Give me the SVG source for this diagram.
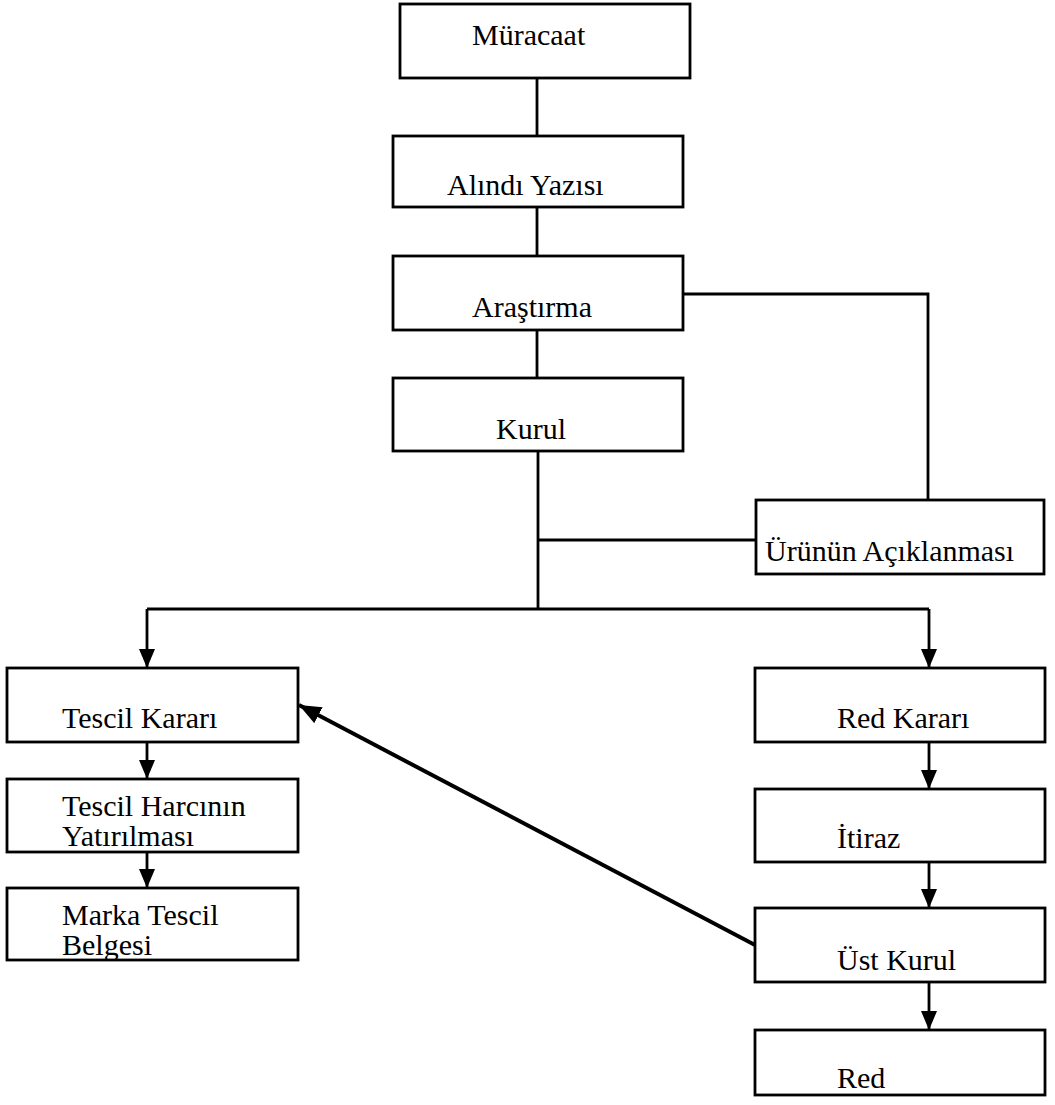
<svg xmlns="http://www.w3.org/2000/svg" width="1055" height="1105" viewBox="0 0 1055 1105">
<style>
.box{fill:#fff;stroke:#000;stroke-width:2.8}
.lbl{font-family:"Liberation Serif","Times New Roman",serif;font-size:30px;fill:#000}
.ln{fill:none;stroke:#000;stroke-width:2.8}
.ar{fill:none;stroke:#000;stroke-width:2.8;marker-end:url(#ah)}
.dg{fill:none;stroke:#000;stroke-width:4;marker-end:url(#ah2)}
</style>
<defs>
<marker id="ah" markerUnits="userSpaceOnUse" markerWidth="19" markerHeight="16" refX="19" refY="8" orient="auto" viewBox="0 0 19 16">
<path d="M0,0 L19,8 L0,16 Z" fill="#000"/>
</marker>
<marker id="ah2" markerUnits="userSpaceOnUse" markerWidth="22" markerHeight="18" refX="22" refY="9" orient="auto" viewBox="0 0 22 18">
<path d="M0,0 L22,9 L0,18 Z" fill="#000"/>
</marker>
</defs>
<rect width="1055" height="1105" fill="#fff"/>
<g id="connectors">
<path class="ln" d="M537,78 V136"/>
<path class="ln" d="M537,207 V256"/>
<path class="ln" d="M537,330 V378"/>
<path class="ln" d="M683,294 H928 V500"/>
<path class="ln" d="M538,451 V609"/>
<path class="ln" d="M538,540 H756"/>
<path class="ln" d="M147,609 H929"/>
<path class="ar" d="M147,609 V668"/>
<path class="ar" d="M929,609 V668"/>
<path class="ar" d="M147,742 V779"/>
<path class="ar" d="M147,852 V888"/>
<path class="ar" d="M929,742 V789"/>
<path class="ar" d="M929,862 V908"/>
<path class="ar" d="M929,982 V1030"/>
<path class="dg" d="M755,945 L299,705"/>
</g>
<g id="muracaat"><rect class="box" x="400" y="4" width="290" height="74"/><text class="lbl" x="472" y="45">Müracaat</text></g>
<g id="alindi"><rect class="box" x="393" y="136" width="290" height="71"/><text class="lbl" x="447" y="195">Alındı Yazısı</text></g>
<g id="arastirma"><rect class="box" x="393" y="256" width="290" height="74"/><text class="lbl" x="472" y="317">Araştırma</text></g>
<g id="kurul"><rect class="box" x="393" y="378" width="290" height="73"/><text class="lbl" x="496" y="439">Kurul</text></g>
<g id="urunun"><rect class="box" x="756" y="500" width="288" height="74"/><text class="lbl" x="765" y="561">Ürünün Açıklanması</text></g>
<g id="tescil-karari"><rect class="box" x="7" y="668" width="291" height="74"/><text class="lbl" x="62" y="728">Tescil Kararı</text></g>
<g id="tescil-harci"><rect class="box" x="7" y="779" width="291" height="73"/><text class="lbl" x="62" y="816">Tescil Harcının</text><text class="lbl" x="62" y="846">Yatırılması</text></g>
<g id="marka-belgesi"><rect class="box" x="7" y="888" width="291" height="72"/><text class="lbl" x="62" y="925">Marka Tescil</text><text class="lbl" x="62" y="955">Belgesi</text></g>
<g id="red-karari"><rect class="box" x="755" y="668" width="290" height="74"/><text class="lbl" x="837" y="728">Red Kararı</text></g>
<g id="itiraz"><rect class="box" x="755" y="789" width="290" height="73"/><text class="lbl" x="837" y="848">İtiraz</text></g>
<g id="ust-kurul"><rect class="box" x="755" y="908" width="290" height="74"/><text class="lbl" x="837" y="970">Üst Kurul</text></g>
<g id="red"><rect class="box" x="755" y="1030" width="290" height="65"/><text class="lbl" x="837" y="1088">Red</text></g>
</svg>
